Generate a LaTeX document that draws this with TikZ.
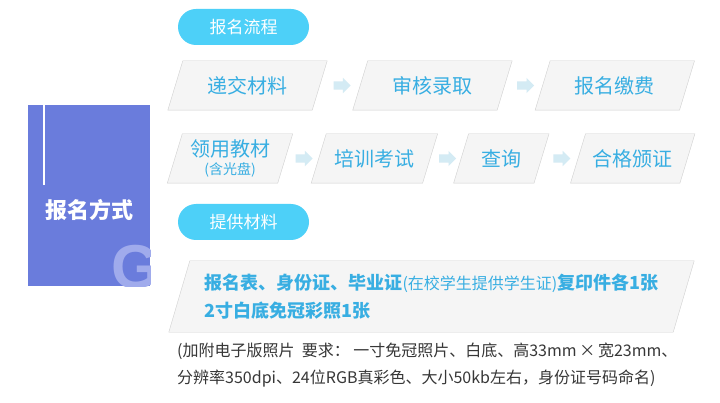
\documentclass[tikz,border=0pt]{standalone}
\usepackage{fontspec}
\setmainfont{Noto Sans CJK SC}
\newfontfamily\gfont{Liberation Sans}
\usepackage{tikz}
\usetikzlibrary{shapes.arrows, positioning, calc, backgrounds}
\definecolor{sideblue}{RGB}{106,124,220}
\definecolor{sideletter}{RGB}{160,171,236}
\definecolor{pillcyan}{RGB}{77,208,248}
\definecolor{steptext}{RGB}{56,174,226}
\definecolor{stepfill}{RGB}{245,245,245}
\definecolor{stepline}{RGB}{208,208,208}
\definecolor{arrowfill}{RGB}{212,235,244}
\definecolor{notegray}{RGB}{55,55,55}
\tikzset{
    slantbox/.style={rectangle, inner sep=0pt, append after command={\pgfextra{
        \begin{pgfonlayer}{background}
            \draw[stepline, fill=stepfill] ([xshift=-#1]\tikzlastnode.south west) -- ([xshift=#1]\tikzlastnode.north west)
                -- ([xshift=#1]\tikzlastnode.north east) -- ([xshift=-#1]\tikzlastnode.south east) -- cycle;
        \end{pgfonlayer}}}},
    sidebox/.style={rectangle, fill=sideblue, minimum width=122pt, minimum height=181pt, inner sep=0pt},
    pill/.style={rectangle, rounded corners=18pt, fill=pillcyan, minimum width=131pt, minimum height=36pt, text=white, font=\fontsize{17}{20}\selectfont},
    stepbox/.style={slantbox=7.5pt, minimum height=49pt, text=steptext, align=center, font=\fontsize{20}{22}\selectfont},
    docbox/.style={slantbox=10.5pt, minimum height=71pt, text=steptext, align=left, font=\bfseries\fontsize{18}{28}\selectfont},
    flowarrow/.style={single arrow, fill=arrowfill, minimum height=17pt, inner xsep=0pt, inner ysep=4pt, single arrow head extend=3.5pt, single arrow head indent=0pt},
    note/.style={text=notegray, align=left, inner sep=0pt, font=\fontsize{16}{27}\selectfont},
}
\begin{document}
\begin{tikzpicture}[x=1pt, y=-1pt]
    \useasboundingbox (0,0) rectangle (720,403);
    \begin{scope}[on background layer]
        \fill[white] (0,0) rectangle (720,403);
    \end{scope}

    % Side panel
    \node[sidebox] (side) at (89,195.5) {};
    \begin{scope}
        \clip (side.south west) rectangle (side.north east);
        \node[anchor=south west, inner sep=0pt, text=sideletter, font=\gfont\bfseries\fontsize{62}{62}\selectfont] (gmark) at (111,289) {G};
    \end{scope}
    \draw[white, line width=2pt] ([xshift=16pt]side.north west) -- ++(0,80);
    \node[text=white, font=\bfseries\fontsize{22}{24}\selectfont] (way) at (89,210) {报名方式};

    % Process
    \node[pill] (flow) at (243.5,27) {报名流程};
    \node[stepbox, minimum width=144pt] (hand) at (247.5,85.5) {递交材料};
    \node[stepbox, minimum width=144pt, right=40.5pt of hand] (audit) {审核录取};
    \node[stepbox, minimum width=144pt, right=38pt of audit] (pay) {报名缴费};

    \node[stepbox, minimum width=110pt] (book) at (230,158.5) {领用教材\\[-4pt]{\fontsize{14}{14}\selectfont (含光盘)}};
    \node[stepbox, minimum width=111pt, right=33.5pt of book] (exam) {培训考试};
    \node[stepbox, minimum width=80pt, right=31pt of exam] (query) {查询};
    \node[stepbox, minimum width=109pt, right=36.5pt of query] (cert) {合格颁证};

    % Arrows
    \node[flowarrow] (a1) at ($(hand.east)!.5!(audit.west)$) {};
    \node[flowarrow] (a2) at ($(audit.east)!.5!(pay.west)$) {};
    \node[flowarrow] (a3) at ($(book.east)!.5!(exam.west)$) {};
    \node[flowarrow] (a4) at ($(exam.east)!.5!(query.west)$) {};
    \node[flowarrow] (a5) at ($(query.east)!.5!(cert.west)$) {};

    % Materials
    \node[pill] (need) at (243.5,222) {提供材料};
    \node[docbox, minimum width=504pt, text width=454pt] (docs) at (431.5,296.5)
        {报名表、身份证、毕业证{\mdseries\fontsize{16}{28}\selectfont (在校学生提供学生证)}复印件各1张\\2寸白底免冠彩照1张};
    \node[note, anchor=north west] (req) at (177,343)
        {(加附电子版照片\ \ 要求：\ 一寸免冠照片、白底、高33mm\,×\,宽23mm、\\分辨率350dpi、24位RGB真彩色、大小50kb左右，身份证号码命名)};
\end{tikzpicture}
\end{document}
